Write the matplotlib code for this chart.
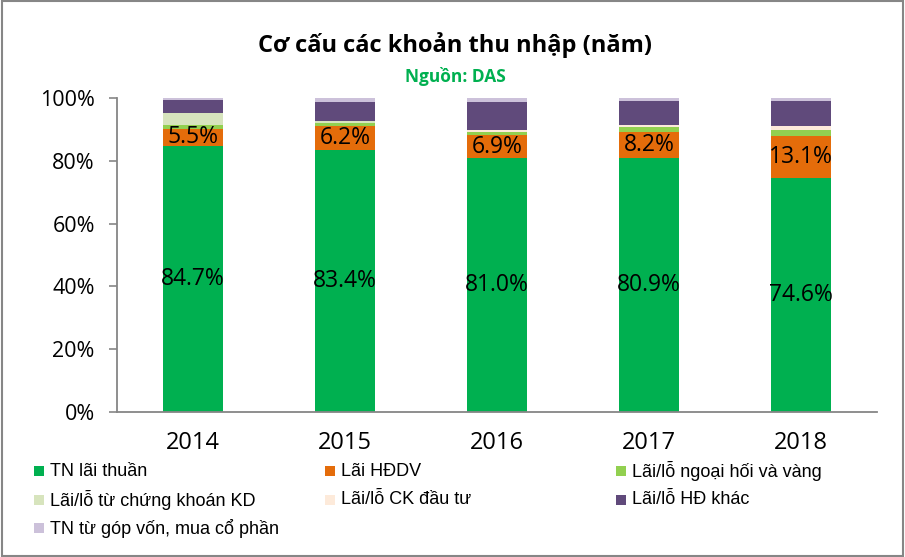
import numpy as np
import matplotlib.pyplot as plt
from matplotlib.patches import Rectangle

years = ['2014', '2015', '2016', '2017', '2018']

# segment heights (%)
tn_lai_thuan = [84.7, 83.4, 81.0, 80.9, 74.6]
lai_hddv = [5.5, 7.6, 7.1, 8.4, 13.2]
ngoai_hoi = [1.3, 1.0, 1.0, 1.4, 1.9]
ck_kd = [3.8, 0.8, 0.0, 0.0, 0.0]
ck_dau_tu = [0.0, 0.0, 0.8, 0.8, 1.5]
hd_khac = [4.1, 5.8, 8.8, 7.7, 8.0]
gop_von = [0.6, 1.4, 1.3, 0.8, 0.8]

green_labels = ['84.7%', '83.4%', '81.0%', '80.9%', '74.6%']
orange_labels = ['5.5%', '6.2%', '6.9%', '8.2%', '13.1%']

names = ['TN lãi thuần', 'Lãi HĐDV', 'Lãi/lỗ ngoại hối và vàng',
         'Lãi/lỗ từ chứng khoán KD', 'Lãi/lỗ CK đầu tư', 'Lãi/lỗ HĐ khác',
         'TN từ góp vốn, mua cổ phần']
colors = ['#00B050', '#E46C0A', '#92D050', '#D7E4BD', '#FDEADA', '#604A7B', '#CCC1DA']
series = [tn_lai_thuan, lai_hddv, ngoai_hoi, ck_kd, ck_dau_tu, hd_khac, gop_von]

plt.rcParams['font.family'] = ['Open Sans', 'DejaVu Sans']

W, H = 905, 557
fig = plt.figure(figsize=(W / 100, H / 100), dpi=100)
ax = fig.add_axes([117 / W, 145 / H, 760 / W, 314 / H])

x = np.arange(len(years))
bottom = np.zeros(len(years))
for vals, c in zip(series, colors):
    v = np.array(vals) / 100.0
    ax.bar(x, v, 0.4, bottom=bottom, color=c, linewidth=0)
    bottom += v

# data labels
for i in range(len(years)):
    g = tn_lai_thuan[i] / 100.0
    o = lai_hddv[i] / 100.0
    ax.text(x[i], g / 2, green_labels[i], ha='center', va='center', fontsize=16.5)
    ax.text(x[i], g + o / 2, orange_labels[i], ha='center', va='center', fontsize=16.5)

ax.set_xlim(-0.5, 4.5)
ax.set_ylim(0, 1)
ax.set_yticks(np.arange(0, 1.01, 0.2))
ax.set_yticklabels(['0%', '20%', '40%', '60%', '80%', '100%'], fontsize=15.5)
ax.set_xticks(x)
ax.set_xticklabels(years, fontsize=17)
ax.tick_params(axis='x', length=0, pad=14)
ax.tick_params(axis='y', length=6, width=1.2, color='#868686', direction='out', pad=10)
for s in ['top', 'right']:
    ax.spines[s].set_visible(False)
for s in ['left', 'bottom']:
    ax.spines[s].set_color('#868686')
    ax.spines[s].set_linewidth(1.3)

fig.text(0.503, 0.92, 'Cơ cấu các khoản thu nhập (năm)', ha='center', va='center',
         fontsize=17, fontweight='bold')
fig.text(0.503, 0.862, 'Nguồn: DAS', ha='center', va='center',
         fontsize=12.5, fontweight='bold', color='#00B050')

# legend laid out row by row, three columns
for k, (name, c) in enumerate(zip(names, colors)):
    col, row = k % 3, k // 3
    mx = 34 + col * 291
    my = 471 + row * 28.5
    fig.patches.append(Rectangle((mx / W, 1 - (my + 5) / H), 10 / W, 10 / H,
                                 transform=fig.transFigure, facecolor=c, edgecolor='none'))
    fig.text((mx + 16) / W, 1 - my / H, name, ha='left', va='center', fontsize=13,
             family=['Liberation Sans Narrow', 'Liberation Sans'])

fig.patches.append(Rectangle((0.002, 0.002), 0.996, 0.996, transform=fig.transFigure,
                             fill=False, edgecolor='#868686', linewidth=1.5))

fig.savefig('out.png', dpi=100)
